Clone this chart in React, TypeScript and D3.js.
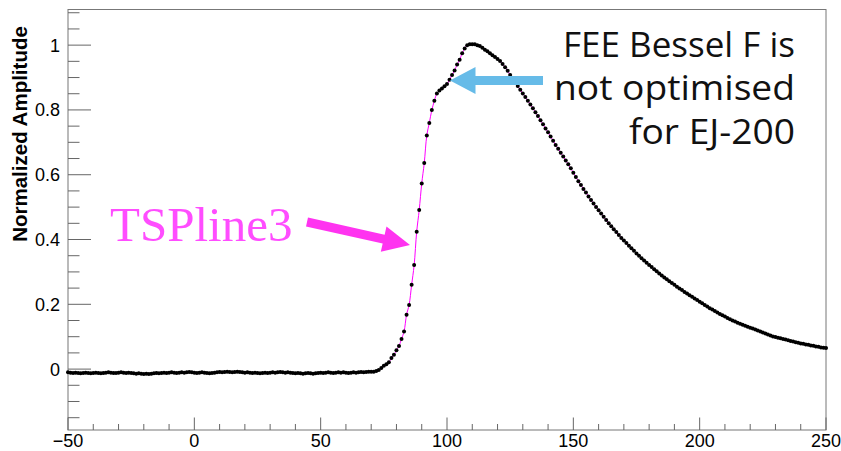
import React from "react";
import * as d3 from "d3";

// ---- data (x in ns from -50 to 250, step 1) ----
const xStart = -50;
const xEnd = 250;

const baselineValues = [
  -0.010,-0.011,-0.012,-0.011,-0.012,-0.013,-0.012,-0.011,-0.012,-0.013,
  -0.012,-0.011,-0.012,-0.013,-0.012,-0.011,-0.010,-0.011,-0.012,-0.012,
  -0.011,-0.010,-0.011,-0.012,-0.011,-0.012,-0.013,-0.014,-0.013,-0.014,
  -0.015,-0.014,-0.015,-0.014,-0.013,-0.012,-0.013,-0.012,-0.011,-0.012,
  -0.011,-0.010,-0.011,-0.012,-0.011,-0.010,-0.011,-0.010,-0.009,-0.010,
  -0.011,-0.012,-0.011,-0.010,-0.011,-0.012,-0.013,-0.012,-0.011,-0.010,
  -0.009,-0.010,-0.009,-0.008,-0.009,-0.010,-0.009,-0.008,-0.009,-0.010,
  -0.011,-0.010,-0.011,-0.012,-0.011,-0.012,-0.013,-0.012,-0.011,-0.012,
  -0.011,-0.010,-0.011,-0.010,-0.009,-0.010,-0.011,-0.010,-0.011,-0.012,
  -0.013,-0.012,-0.013,-0.014,-0.013,-0.012,-0.013,-0.014,-0.013,-0.012,
  -0.011,-0.012,-0.011,-0.010,-0.011,-0.012,-0.011,-0.010,-0.011,-0.010,
  -0.011,-0.012,-0.011,-0.010,-0.011,-0.010,-0.009,-0.010,-0.009,-0.008,
  -0.008,-0.008,
];

const riseValues = [
  -0.006,-0.003,0.003,0.010,0.015,0.021,0.034,0.044,0.058,0.071,
  0.093,0.116,0.168,0.198,0.260,0.321,0.424,0.491,0.573,0.636,
  0.721,0.760,0.800,0.828,0.851,0.860,0.866,0.873,0.880,0.893,
  0.908,0.922,0.940,0.955,0.975,0.990,1.000,1.003,1.003,1.003,
  1.000,
];

const decayValues = [
  0.997,0.992,0.986,0.981,0.975,0.969,0.963,0.957,0.951,0.942,
  0.932,0.921,0.908,0.897,0.886,0.874,0.862,0.851,0.840,0.828,
  0.817,0.805,0.793,0.781,0.768,0.756,0.743,0.731,0.718,0.705,
  0.692,0.680,0.668,0.656,0.644,0.632,0.620,0.606,0.593,0.580,
  0.568,0.556,0.545,0.533,0.522,0.511,0.500,0.490,0.480,0.470,
  0.460,0.450,0.441,0.432,0.423,0.414,0.405,0.397,0.389,0.381,
  0.373,0.365,0.357,0.350,0.342,0.335,0.328,0.321,0.315,0.308,
  0.302,0.295,0.289,0.283,0.277,0.271,0.266,0.260,0.254,0.249,
  0.244,0.238,0.233,0.228,0.223,0.218,0.213,0.208,0.203,0.198,
  0.193,0.188,0.184,0.179,0.175,0.170,0.166,0.162,0.158,0.154,
  0.150,0.147,0.143,0.140,0.137,0.134,0.131,0.128,0.125,0.122,
  0.119,0.116,0.113,0.110,0.107,0.104,0.101,0.099,0.097,0.095,
  0.093,0.091,0.089,0.087,0.085,0.083,0.081,0.079,0.078,0.076,
  0.075,0.073,0.072,0.070,0.069,0.067,0.066,0.065,
];

const xTicks = [-50, 0, 50, 100, 150, 200, 250];
const yTicks = [0, 0.2, 0.4, 0.6, 0.8, 1];
const yTitle = "Normalized Amplitude";
const splineLabel = "TSPline3";
const noteLines = ["FEE Bessel F is", "not optimised", "for EJ-200"];
const noteWidths = [232, 241, 166];

const W = 841;
const H = 451;
const frame = { left: 68, right: 826, top: 9.5, bottom: 430 };

export default function App() {
  const values = [...baselineValues, ...riseValues, ...decayValues];
  const xs = d3.range(xStart, xEnd + 1);
  const data = xs.map((x, i) => ({ x, y: values[i] })).filter((d) => d.y !== undefined);

  const xScale = d3.scaleLinear().domain([-50, 250]).range([frame.left, frame.right]);
  const yScale = d3.scaleLinear().domain([-0.188, 1.11]).range([frame.bottom, frame.top]);

  const line = d3
    .line<{ x: number; y: number }>()
    .x((d) => xScale(d.x))
    .y((d) => yScale(d.y))
    .curve(d3.curveCatmullRom);

  const xMinor = d3.range(-40, 250, 10).filter((v) => v % 50 !== 0);
  const yMinor = d3.range(-0.15, 1.11, 0.05).filter((v) => Math.abs(v * 5 - Math.round(v * 5)) > 1e-6);
  const fmtY = d3.format("~g");
  const fmtX = d3.format("d");

  const arrow = (tx: number, ty: number, hx: number, hy: number, sw: number, hw: number, hl: number) => {
    const dx = hx - tx, dy = hy - ty;
    const L = Math.hypot(dx, dy);
    const ux = dx / L, uy = dy / L;
    const nx = -uy, ny = ux;
    const bx = hx - ux * hl, by = hy - uy * hl;
    const pts = [
      [tx + nx * sw, ty + ny * sw],
      [bx + nx * sw, by + ny * sw],
      [bx + nx * hw, by + ny * hw],
      [hx, hy],
      [bx - nx * hw, by - ny * hw],
      [bx - nx * sw, by - ny * sw],
      [tx - nx * sw, ty - ny * sw],
    ];
    return pts.map((p) => p.join(",")).join(" ");
  };

  const tickColor = "#666";
  const font = "'Liberation Sans Narrow', 'Liberation Sans', Arial, Helvetica, sans-serif";
  const titleFont = "'Liberation Sans', Arial, Helvetica, sans-serif";

  return (
    <div style={{ position: "absolute", left: 0, top: 0 }}>
      <svg width={W} height={H} viewBox={`0 0 ${W} ${H}`} style={{ display: "block", background: "#fff" }}>
        <rect x={0} y={0} width={W} height={H} fill="#fff" />
        <rect
          x={frame.left}
          y={frame.top}
          width={frame.right - frame.left}
          height={frame.bottom - frame.top}
          fill="none"
          stroke="#777"
          strokeWidth={1}
        />
        {xTicks.map((t) => (
          <line key={"xm" + t} x1={xScale(t)} x2={xScale(t)} y1={frame.bottom} y2={frame.bottom - 12.5} stroke={tickColor} />
        ))}
        {xMinor.map((t) => (
          <line key={"xn" + t} x1={xScale(t)} x2={xScale(t)} y1={frame.bottom} y2={frame.bottom - 6} stroke={tickColor} />
        ))}
        {xTicks.map((t) => (
          <text key={"xl" + t} x={xScale(t)} y={447} textAnchor="middle" fontFamily={font} fontSize={18} fill="#000">
            {fmtX(t)}
          </text>
        ))}
        {yTicks.map((t) => (
          <line key={"ym" + t} x1={frame.left} x2={frame.left + 23} y1={yScale(t)} y2={yScale(t)} stroke={tickColor} />
        ))}
        {yMinor.map((t) => (
          <line key={"yn" + t} x1={frame.left} x2={frame.left + 11.5} y1={yScale(t)} y2={yScale(t)} stroke={tickColor} />
        ))}
        {yTicks.map((t) => (
          <text key={"yl" + t} x={60} y={yScale(t) + 6.5} textAnchor="end" fontFamily={font} fontSize={18} fill="#000">
            {fmtY(t)}
          </text>
        ))}
        <text
          transform={`translate(27,134) rotate(-90)`}
          textAnchor="middle"
          fontFamily={titleFont}
          fontWeight="bold"
          fontSize={20.5}
          fill="#000"
        >
          {yTitle}
        </text>

        <path d={line(data) || ""} fill="none" stroke="#ff00ff" strokeWidth={1} />
        {data.map((d) => (
          <circle key={d.x} cx={xScale(d.x)} cy={yScale(d.y)} r={2} fill="#000" />
        ))}

        <text x={110} y={241} fontFamily="'Liberation Serif', 'Times New Roman', serif" fontSize={49} fill="#ff4dff">
          {splineLabel}
        </text>
        <polygon points={arrow(307, 222, 410, 245, 4.5, 13, 27)} fill="#ff33f0" />
        <polygon points={arrow(543, 80.5, 450, 80.5, 4.5, 13.5, 25.5)} fill="#66bbe8" />
        {noteLines.map((s, i) => (
          <text
            key={s}
            x={795}
            y={57 + i * 43.3}
            textAnchor="end"
            textLength={noteWidths[i]}
            lengthAdjust="spacingAndGlyphs"
            fontFamily="'Open Sans', 'DejaVu Sans', sans-serif"
            fontSize={34}
            fill="#111"
          >
            {s}
          </text>
        ))}
      </svg>
    </div>
  );
}
